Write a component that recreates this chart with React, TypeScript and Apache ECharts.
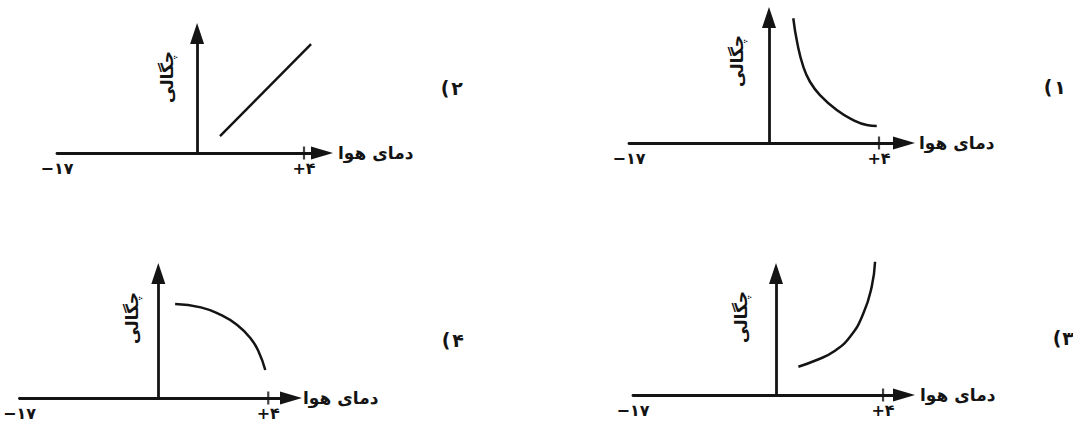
import React, { useEffect, useRef } from 'react';
import * as echarts from 'echarts';

// ---- data ----
const TEMP_MIN = -17;
const TICK_VALUES = [-17, 4];
const TICK_LABELS = ['−۱۷', '+۴'];
const X_NAME = 'دمای هوا';
const Y_NAME = 'چگالی';
const PANEL_NUMBERS = ['۱', '۲', '۳', '۴'];
const DENSITY_MAX = 10;
const TICK_MARK_AT = 4;

// per panel (1..4): axis end value and where the density axis crosses
const X_MAX = [6.1, 5.53, 5.76, 5.92];
const Y_AXIS_AT = [-5.24, -5.09, -4.99, -5.28];

// panel 1: decreasing, convex
const CURVE_1 = [
  [-3.2, 9.94], [-2.86, 7.94], [-2.36, 6.08], [-1.8, 4.88], [-0.96, 3.82],
  [0.45, 2.63], [1.84, 1.83], [2.97, 1.43], [3.81, 1.35],
];
// panel 2: increasing straight line
const CURVE_2 = [[-3.14, 1.42], [4.6, 9.12]];
// panel 3: increasing, convex
const CURVE_3 = [
  [-3.11, 2.33], [-1.57, 2.88], [-0.17, 3.56], [1.23, 4.8], [2.35, 6.72],
  [3.05, 8.92], [3.33, 10.97],
];
// panel 4: decreasing, concave
const CURVE_4 = [
  [-3.86, 7.55], [-1.69, 7.28], [-0.01, 6.67], [1.38, 5.86], [2.5, 4.8],
  [3.19, 3.72], [3.75, 2.25],
];
const CURVES = [CURVE_1, CURVE_2, CURVE_3, CURVE_4];

// ---- layout ----
const GRIDS = [
  { left: 629, top: 17.5, width: 275, height: 125.5 },
  { left: 57, top: 33.5, width: 265, height: 119.5 },
  { left: 633, top: 273.5, width: 271, height: 121.5 },
  { left: 17, top: 273.5, width: 274, height: 124.5 },
];
const NAME_GAPS = [15, 16, 16, 12];
const Y_NAME_POS = [[737, 61], [167, 77], [741, 317], [132, 318]];
// [x of "(", x of digit, y]
const PANEL_LABEL_POS = [[1048, 1060, 87], [445, 457, 88], [1057, 1068, 338], [446, 458, 340]];

const INK = '#141414';
const FONT = '"DejaVu Sans", sans-serif';

export default function App() {
  const ref = useRef<HTMLDivElement>(null);
  useEffect(() => {
    if (!ref.current) return;
    const chart = echarts.init(ref.current, null, { renderer: 'svg' });
    const grid = GRIDS.map((g) => ({ ...g, containLabel: false }));
    const xAxis = GRIDS.map((_, i) => ({
      type: 'value',
      gridIndex: i,
      min: TEMP_MIN,
      max: X_MAX[i],
      axisLine: {
        show: true,
        onZero: false,
        symbol: ['none', 'triangle'],
        symbolSize: [13, 22],
        lineStyle: { color: INK, width: 2.8 },
      },
      axisTick: { show: false },
      splitLine: { show: false },
      axisLabel: {
        customValues: TICK_VALUES,
        formatter: (v: number) => {
          const k = TICK_VALUES.indexOf(v);
          return k >= 0 ? TICK_LABELS[k] : '';
        },
        color: INK,
        fontSize: 16,
        fontWeight: 'bold',
        fontFamily: FONT,
        margin: 7,
      },
      name: X_NAME,
      nameLocation: 'end',
      nameGap: NAME_GAPS[i],
      nameTextStyle: {
        color: INK,
        fontSize: 17,
        fontWeight: 'bold',
        fontFamily: FONT,
        verticalAlign: 'middle',
        padding: [0, 0, 9, 0],
      },
    }));
    const yAxis = GRIDS.map((_, i) => ({
      type: 'value',
      gridIndex: i,
      min: 0,
      max: DENSITY_MAX,
      show: false,
    }));
    const series: any[] = [];
    CURVES.forEach((curve, i) => {
      series.push({
        type: 'line',
        xAxisIndex: i,
        yAxisIndex: i,
        data: curve,
        smooth: curve.length > 2 ? 0.5 : false,
        showSymbol: false,
        clip: false,
        silent: true,
        lineStyle: { color: INK, width: 2.5 },
        markLine: {
          silent: true,
          symbol: ['none', 'triangle'],
          symbolSize: [14, 21],
          label: { show: false },
          lineStyle: { type: 'solid', color: INK, width: 2.8 },
          data: [[{ coord: [Y_AXIS_AT[i], 0] }, { coord: [Y_AXIS_AT[i], DENSITY_MAX] }]],
        },
      });
      series.push({
        type: 'scatter',
        xAxisIndex: i,
        yAxisIndex: i,
        data: [[TICK_MARK_AT, 0]],
        symbol: 'rect',
        symbolSize: [2.2, 13],
        silent: true,
        itemStyle: { color: INK },
      });
    });
    const graphic: any[] = [];
    Y_NAME_POS.forEach(([x, y]) => {
      graphic.push({
        type: 'text',
        x,
        y,
        rotation: Math.PI / 2,
        style: {
          text: Y_NAME,
          fill: INK,
          font: `bold 17px ${FONT}`,
          align: 'center',
          verticalAlign: 'middle',
        },
      });
    });
    PANEL_LABEL_POS.forEach(([px, dx, y], i) => {
      graphic.push({
        type: 'text',
        x: px,
        y,
        style: {
          text: '(',
          fill: INK,
          font: `bold 19px ${FONT}`,
          align: 'center',
          verticalAlign: 'middle',
        },
      });
      graphic.push({
        type: 'text',
        x: dx,
        y,
        style: {
          text: PANEL_NUMBERS[i],
          fill: INK,
          font: `bold 19px ${FONT}`,
          align: 'center',
          verticalAlign: 'middle',
        },
      });
    });
    chart.setOption({
      animation: false,
      backgroundColor: '#ffffff',
      grid,
      xAxis,
      yAxis,
      series,
      graphic,
    });
    return () => chart.dispose();
  }, []);
  return (
    <div
      ref={ref}
      style={{ position: 'absolute', left: 0, top: 0, width: 1073, height: 428, background: '#fff' }}
    />
  );
}
